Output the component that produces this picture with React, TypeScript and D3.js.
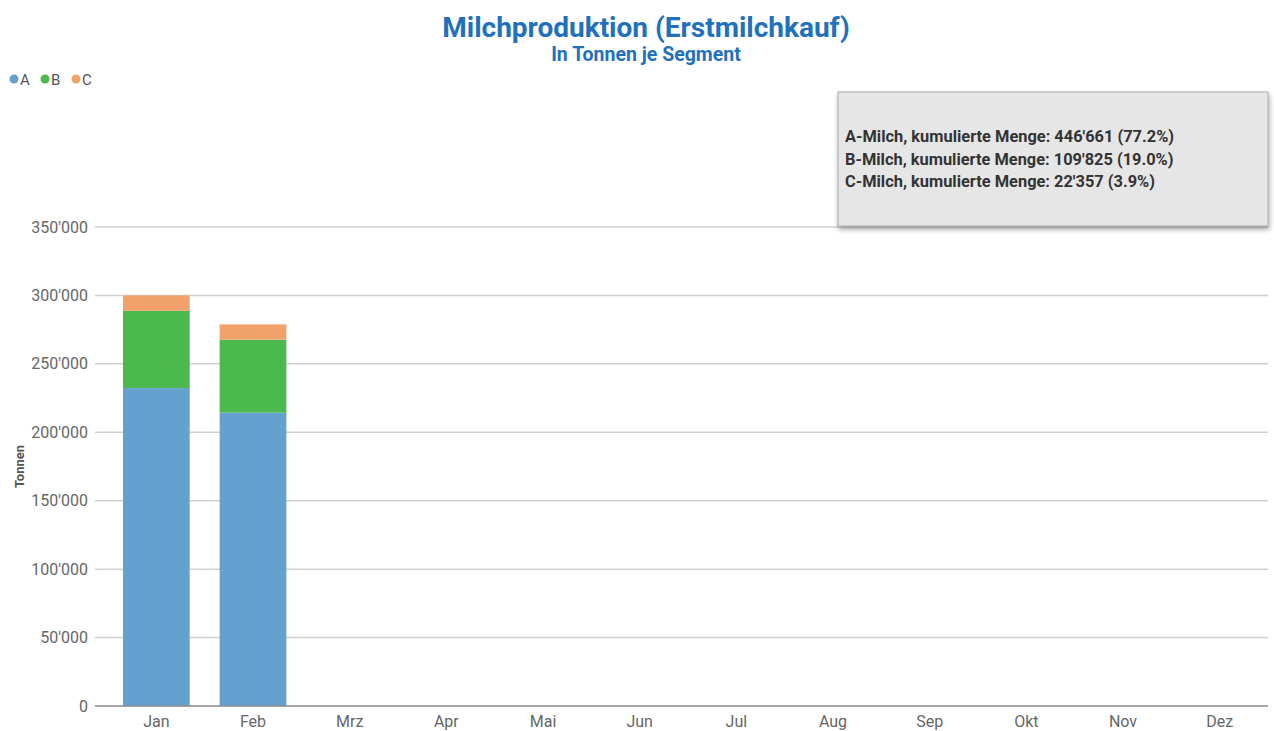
import * as d3 from "d3";
import React, { useEffect, useRef } from "react";

const months = ["Jan", "Feb", "Mrz", "Apr", "Mai", "Jun", "Jul", "Aug", "Sep", "Okt", "Nov", "Dez"];
const seriesKeys = ["A", "B", "C"];
const valuesA = [232300, 214361];
const valuesB = [56500, 53325];
const valuesC = [11200, 11157];
const yTicks = [0, 50000, 100000, 150000, 200000, 250000, 300000, 350000];
const summaryLines = [
  "A-Milch, kumulierte Menge: 446'661 (77.2%)",
  "B-Milch, kumulierte Menge: 109'825 (19.0%)",
  "C-Milch, kumulierte Menge: 22'357 (3.9%)",
];

const colors: Record<string, string> = { A: "#64a1cf", B: "#4cb94f", C: "#f0a26a" };
const fontFamily = "Roboto, 'Liberation Sans', sans-serif";

const W = 1274;
const H = 731;

export default function App() {
  const svgRef = useRef<SVGSVGElement | null>(null);

  useEffect(() => {
    const svg = d3.select(svgRef.current);
    svg.selectAll("*").remove();

    const margin = { top: 227, right: 6, bottom: 25, left: 108 };
    const gridLeft = 95;
    const plotRight = W - margin.right;

    const rows = months.map((m, i) => ({
      month: m,
      A: valuesA[i] ?? 0,
      B: valuesB[i] ?? 0,
      C: valuesC[i] ?? 0,
    }));

    const x = d3.scaleBand().domain(months).range([margin.left, plotRight]).paddingInner(0.31).paddingOuter(0.155);
    const y = d3.scaleLinear().domain([0, 350000]).range([H - margin.bottom, margin.top]);

    const fmt = (v: number) => d3.format(",")(v).replace(/,/g, "'");

    // title
    svg
      .append("text")
      .attr("x", 646)
      .attr("y", 37)
      .attr("text-anchor", "middle")
      .attr("font-family", fontFamily)
      .attr("font-weight", "bold")
      .attr("font-size", 28)
      .attr("fill", "#1f70bd")
      .text("Milchproduktion (Erstmilchkauf)");
    svg
      .append("text")
      .attr("x", 646)
      .attr("y", 61)
      .attr("text-anchor", "middle")
      .attr("font-family", fontFamily)
      .attr("font-weight", "bold")
      .attr("font-size", 19.5)
      .attr("fill", "#1f70bd")
      .text("In Tonnen je Segment");

    // legend
    const legend = svg.append("g").attr("transform", "translate(14,79)");
    seriesKeys.forEach((k, i) => {
      const gx = i * 31;
      legend.append("circle").attr("cx", gx).attr("cy", 0).attr("r", 4.5).attr("fill", colors[k]);
      legend
        .append("text")
        .attr("x", gx + 6)
        .attr("y", 5.5)
        .attr("font-family", fontFamily)
        .attr("font-size", 15)
        .attr("fill", "#555")
        .text(k);
    });

    // gridlines
    svg
      .append("g")
      .selectAll("line")
      .data(yTicks.filter((t) => t > 0))
      .enter()
      .append("line")
      .attr("x1", gridLeft)
      .attr("x2", plotRight)
      .attr("y1", (d) => y(d))
      .attr("y2", (d) => y(d))
      .attr("stroke", "#cfcfcf")
      .attr("stroke-width", 1.5);

    // y tick labels
    svg
      .append("g")
      .selectAll("text")
      .data(yTicks)
      .enter()
      .append("text")
      .attr("x", 88)
      .attr("y", (d) => y(d) + 5.5)
      .attr("text-anchor", "end")
      .attr("font-family", fontFamily)
      .attr("font-size", 16)
      .attr("fill", "#666")
      .text((d) => fmt(d));

    // y axis title
    svg
      .append("text")
      .attr("transform", `translate(24,${(margin.top + H - margin.bottom) / 2}) rotate(-90)`)
      .attr("text-anchor", "middle")
      .attr("font-family", fontFamily)
      .attr("font-weight", "bold")
      .attr("font-size", 13)
      .attr("fill", "#555")
      .text("Tonnen");

    // stacked bars
    const stack = d3.stack<any>().keys(seriesKeys);
    const layers = stack(rows);
    svg
      .append("g")
      .selectAll("g")
      .data(layers)
      .enter()
      .append("g")
      .attr("fill", (d) => colors[d.key])
      .selectAll("rect")
      .data((d) => d)
      .enter()
      .append("rect")
      .attr("x", (d) => x(d.data.month)!)
      .attr("width", x.bandwidth())
      .attr("y", (d) => y(d[1]))
      .attr("height", (d) => y(d[0]) - y(d[1]));

    // x axis line + labels
    svg
      .append("line")
      .attr("x1", gridLeft)
      .attr("x2", plotRight)
      .attr("y1", y(0))
      .attr("y2", y(0))
      .attr("stroke", "#888")
      .attr("stroke-width", 1.5);
    svg
      .append("g")
      .selectAll("text")
      .data(months)
      .enter()
      .append("text")
      .attr("x", (d) => x(d)! + x.bandwidth() / 2)
      .attr("y", y(0) + 21)
      .attr("text-anchor", "middle")
      .attr("font-family", fontFamily)
      .attr("font-size", 16)
      .attr("fill", "#666")
      .text((d) => d);

    // summary box
    const defs = svg.append("defs");
    const filter = defs.append("filter").attr("id", "shadow").attr("x", "-5%").attr("y", "-5%").attr("width", "115%").attr("height", "130%");
    filter.append("feDropShadow").attr("dx", 1).attr("dy", 3).attr("stdDeviation", 2.5).attr("flood-color", "#000").attr("flood-opacity", 0.35);

    const box = svg.append("g").attr("transform", "translate(838,92)");
    box
      .append("rect")
      .attr("width", 430)
      .attr("height", 134)
      .attr("fill", "#e6e6e6")
      .attr("stroke", "#aaa")
      .attr("stroke-width", 1)
      .attr("filter", "url(#shadow)");
    box
      .selectAll("text")
      .data(summaryLines)
      .enter()
      .append("text")
      .attr("x", 7)
      .attr("y", (d, i) => 50 + i * 22.5)
      .attr("font-family", fontFamily)
      .attr("font-weight", "bold")
      .attr("font-size", 16.4)
      .attr("fill", "#333")
      .text((d) => d);
  }, []);

  return (
    <svg
      ref={svgRef}
      width={W}
      height={H}
      style={{ position: "absolute", left: 0, top: 0, background: "#fff" }}
    />
  );
}
